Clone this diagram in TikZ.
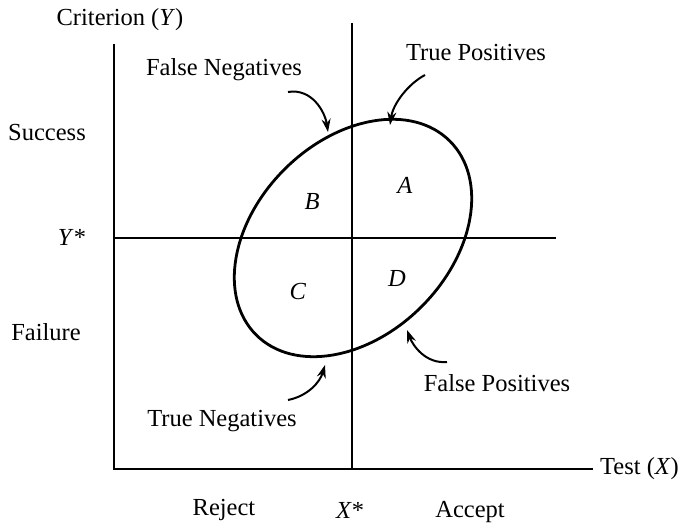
\documentclass[tikz,border=0pt]{standalone}
\usepackage{fontspec}
\setmainfont{Liberation Serif}
\usetikzlibrary{arrows.meta}
\begin{document}
\begin{tikzpicture}[x=1pt,y=1pt,
  lbl/.style={font=\fontsize{24.5}{28}\selectfont, inner sep=0pt},
  axis/.style={line width=1.9pt},
  cut/.style={line width=1.3pt},
  oval/.style={line width=2.8pt},
  pointer/.style={line width=2pt, -{Stealth[length=13pt,width=9pt]}}]
\useasboundingbox (0,0) rectangle (691,524);
% axes
\coordinate (ytop) at (114,480);
\coordinate (orig) at (114,55);
\coordinate (xend) at (593,55);
\draw[axis] (ytop) -- (orig) -- (xend);
% cut lines
\coordinate (xsTop) at (352,501);
\coordinate (xsBot) at (352,55);
\coordinate (ysL) at (114,286);
\coordinate (ysR) at (556,286);
\draw[cut] (xsTop) -- (xsBot);
\draw[cut] (ysL) -- (ysR);
% ellipse
\coordinate (ctr) at (353,286);
\draw[oval, rotate around={45:(ctr)}] (ctr) ellipse [x radius=137pt, y radius=97pt];
% labels
\node[lbl] (crit) at (120,504) {Criterion (\textit{Y})};
\node[lbl] (fn) at (224,454) {False Negatives};
\node[lbl] (tp) at (476,471) {True Positives};
\node[lbl] (succ) at (47,391) {Success};
\node[lbl] (ystar) at (72,287) {\textit{Y}*};
\node[lbl] (fail) at (46,192) {Failure};
\node[lbl] (B) at (312,322) {\textit{B}};
\node[lbl] (A) at (405,339) {\textit{A}};
\node[lbl] (C) at (298,232) {\textit{C}};
\node[lbl] (D) at (397,245) {\textit{D}};
\node[lbl] (fp) at (497,141) {False Positives};
\node[lbl] (tn) at (222,103) {True Negatives};
\node[lbl, anchor=west] (test) at (600,55) {Test (\textit{X})};
\node[lbl] (rej) at (224,14) {Reject};
\node[lbl] (xstar) at (350,14) {\textit{X}*};
\node[lbl] (acc) at (470,12) {Accept};
% arrows
\coordinate (fnS) at (288,432); \coordinate (fnE) at (328,392);
\coordinate (tpS) at (425,449); \coordinate (tpE) at (390,399);
\coordinate (tnS) at (288,124); \coordinate (tnE) at (325,159);
\coordinate (fpS) at (447,162); \coordinate (fpE) at (407,194);
\draw[pointer] (fnS) .. controls (312,436) and (325,412) .. (fnE);
\draw[pointer] (tpS) .. controls (408,440) and (393,420) .. (tpE);
\draw[pointer] (tnS) .. controls (308,128) and (320,142) .. (tnE);
\draw[pointer] (fpS) .. controls (426,160) and (413,178) .. (fpE);
\end{tikzpicture}
\end{document}
